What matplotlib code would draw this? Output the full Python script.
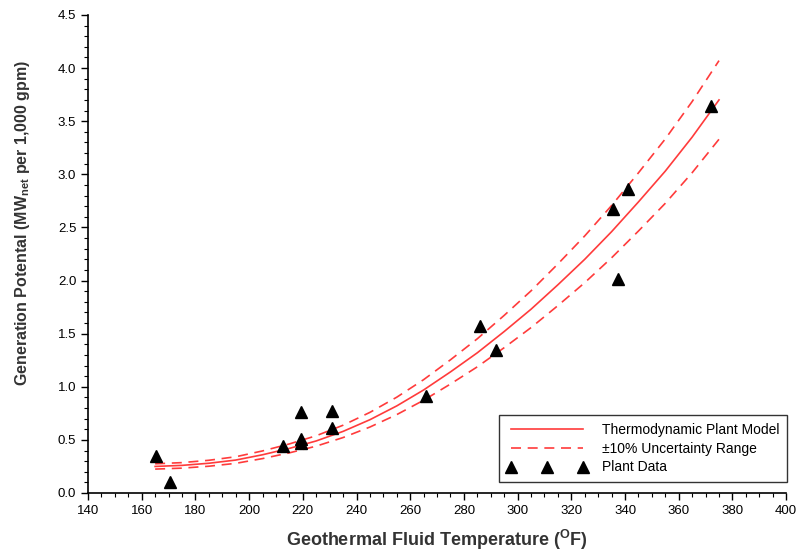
import numpy as np
import matplotlib
matplotlib.use('Agg')
import matplotlib.pyplot as plt
from matplotlib.ticker import MultipleLocator

plt.rcParams['font.family'] = ['Liberation Sans', 'DejaVu Sans']

# model curve
model_T = [165, 175, 185, 195, 205, 215, 225, 235, 245, 255, 265,
           275, 285, 295, 305, 315, 325, 335, 345, 355, 365, 375]
model_P = [0.25, 0.26, 0.28, 0.31, 0.36, 0.42, 0.49, 0.58, 0.69, 0.82, 0.97,
           1.14, 1.32, 1.52, 1.73, 1.96, 2.20, 2.46, 2.74, 3.03, 3.35, 3.70]
uncert = 0.10

# plant data points
data_T = [165.5, 170.5, 212.5, 219.5, 219.5, 219.5, 231, 231, 266, 286, 292, 335.5, 337.5, 341, 372]
data_P = [0.35, 0.10, 0.44, 0.76, 0.47, 0.51, 0.77, 0.61, 0.91, 1.57, 1.35, 2.67, 2.01, 2.86, 3.64]

red = '#ff3b3b'
mT = np.array(model_T)
mP = np.array(model_P)

fig = plt.figure(figsize=(8.03, 5.53), dpi=100)
ax = fig.add_axes([0.1096, 0.1085, 0.8694, 0.8645])

ax.plot(mT, mP, color=red, lw=1.2, label='Thermodynamic Plant Model')
ax.plot(mT, mP * (1 + uncert), color=red, lw=1.2, ls=(0, (6, 4)),
        label='\u00b110% Uncertainty Range')
ax.plot(mT, mP * (1 - uncert), color=red, lw=1.2, ls=(0, (6, 4)))
ax.plot(data_T, data_P, ls='none', marker='^', ms=9, color='black', label='Plant Data')

ax.set_xlim(140, 400)
ax.set_ylim(0, 4.5)
ax.xaxis.set_major_locator(MultipleLocator(20))
ax.xaxis.set_minor_locator(MultipleLocator(5))
ax.yaxis.set_major_locator(MultipleLocator(0.5))
ax.yaxis.set_minor_locator(MultipleLocator(0.1))
ax.yaxis.set_major_formatter(plt.FormatStrFormatter('%.1f'))
ax.tick_params(which='major', length=5, width=1, labelsize=9.5, colors='black')
ax.tick_params(which='minor', length=3, width=0.8)
for s in ['top', 'right']:
    ax.spines[s].set_visible(False)
for s in ['left', 'bottom']:
    ax.spines[s].set_linewidth(1.2)

ax.set_xlabel('Geothermal Fluid Temperature ($\\mathregular{^{O}}$F)', fontsize=13,
              fontweight='bold', color='#333333', labelpad=8)
ax.set_ylabel('Generation Potental (MW$\\mathregular{_{net}}$ per 1,000 gpm)', fontsize=11.5,
              fontweight='bold', color='#333333')
ax.yaxis.set_label_coords(-0.080, 0.564)

leg = ax.legend(loc='lower right', bbox_to_anchor=(1.0014, 0.023), borderaxespad=0,
                numpoints=3, fontsize=10, frameon=True, fancybox=False, edgecolor='black',
                handlelength=5.75, handletextpad=1.1, borderpad=0.55, labelspacing=0.35)
leg.get_frame().set_linewidth(1.0)

fig.savefig('out.png', dpi=100)
